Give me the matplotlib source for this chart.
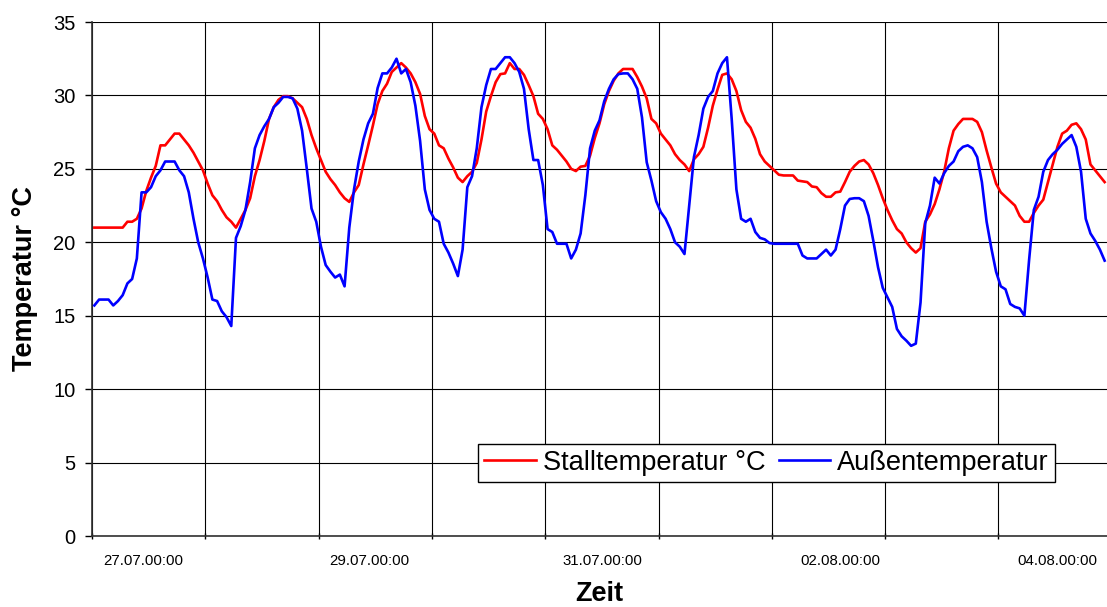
import numpy as np
import matplotlib
matplotlib.use("Agg")
import matplotlib.pyplot as plt

plt.rcParams['font.family'] = ['Liberation Sans', 'DejaVu Sans']

# hourly readings, 27.07. 00:00 to 04.08. ~22:00
stall = [21.0, 21.0, 21.0, 21.0, 21.0, 21.0, 21.0, 21.4, 21.4, 21.6, 22.3, 23.5,
         24.4, 25.2, 26.6, 26.6, 27.0, 27.4, 27.4, 27.0, 26.6, 26.1, 25.5, 24.9,
         24.0, 23.2, 22.8, 22.2, 21.7, 21.4, 21.0, 21.6, 22.2, 23.0, 24.5, 25.6,
         26.9, 28.4, 29.2, 29.7, 29.95, 29.95, 29.8, 29.5, 29.2, 28.4, 27.3, 26.4,
         25.6, 24.8, 24.3, 23.9, 23.4, 23.0, 22.75, 23.4, 23.9, 25.3, 26.6, 27.95,
         29.4, 30.3, 30.8, 31.6, 31.9, 32.2, 31.9, 31.5, 30.9, 30.1, 28.6, 27.7,
         27.4, 26.6, 26.4, 25.7, 25.1, 24.4, 24.1, 24.5, 24.8, 25.4, 27.0, 28.9,
         29.95, 30.9, 31.45, 31.5, 32.2, 31.8, 31.8, 31.4, 30.7, 29.95, 28.75, 28.4,
         27.7, 26.6, 26.3, 25.9, 25.5, 25.0, 24.85, 25.15, 25.2, 25.9, 27.1, 28.1,
         29.4, 30.3, 31.0, 31.5, 31.8, 31.8, 31.8, 31.25, 30.6, 29.8, 28.4, 28.1,
         27.4, 27.0, 26.6, 26.0, 25.6, 25.3, 24.85, 25.65, 26.0, 26.5, 27.8, 29.3,
         30.4, 31.4, 31.5, 31.1, 30.3, 29.0, 28.2, 27.8, 27.05, 26.0, 25.5, 25.2,
         24.9, 24.6, 24.55, 24.55, 24.55, 24.2, 24.15, 24.1, 23.8, 23.75, 23.35, 23.1,
         23.1, 23.4, 23.45, 24.1, 24.8, 25.2, 25.5, 25.6, 25.3, 24.7, 23.9, 23.0,
         22.2, 21.5, 20.9, 20.6, 20.0, 19.6, 19.3, 19.6, 21.4, 21.9, 22.6, 23.6,
         24.8, 26.4, 27.6, 28.05, 28.4, 28.4, 28.4, 28.2, 27.5, 26.25, 25.1, 24.0,
         23.4, 23.1, 22.8, 22.5, 21.8, 21.4, 21.4, 22.0, 22.5, 22.9, 24.1, 25.3,
         26.5, 27.4, 27.6, 28.0, 28.1, 27.7, 27.0, 25.3, 24.9, 24.5, 24.1]

aussen = [15.7, 16.1, 16.1, 16.1, 15.7, 16.0, 16.4, 17.2, 17.5, 18.9, 23.4, 23.4,
          23.75, 24.5, 24.9, 25.5, 25.5, 25.5, 24.9, 24.5, 23.4, 21.6, 20.0, 18.9,
          17.6, 16.1, 16.0, 15.3, 14.9, 14.3, 20.3, 21.1, 22.2, 24.1, 26.4, 27.3,
          27.9, 28.4, 29.2, 29.5, 29.9, 29.9, 29.8, 29.1, 27.6, 25.0, 22.3, 21.4,
          19.7, 18.45, 18.0, 17.6, 17.8, 17.0, 21.0, 23.6, 25.5, 27.0, 28.1, 28.75,
          30.5, 31.5, 31.5, 31.9, 32.5, 31.5, 31.8, 30.9, 29.3, 26.9, 23.6, 22.2,
          21.6, 21.4, 19.9, 19.3, 18.55, 17.7, 19.5, 23.75, 24.5, 26.4, 29.2, 30.7,
          31.8, 31.8, 32.2, 32.6, 32.6, 32.2, 31.6, 30.45, 27.7, 25.6, 25.6, 23.9,
          20.9, 20.7, 19.9, 19.9, 19.9, 18.9, 19.5, 20.6, 23.2, 26.4, 27.6, 28.3,
          29.6, 30.45, 31.1, 31.45, 31.5, 31.5, 31.1, 30.45, 28.5, 25.45, 24.2, 22.8,
          22.05, 21.6, 20.9, 20.0, 19.7, 19.2, 22.5, 25.8, 27.3, 29.1, 29.9, 30.3,
          31.5, 32.2, 32.6, 28.4, 23.6, 21.6, 21.4, 21.6, 20.7, 20.3, 20.2, 19.95,
          19.9, 19.9, 19.9, 19.9, 19.9, 19.9, 19.1, 18.9, 18.9, 18.9, 19.2, 19.5,
          19.1, 19.5, 20.9, 22.5, 22.95, 23.0, 23.0, 22.8, 21.8, 20.1, 18.3, 16.9,
          16.25, 15.6, 14.1, 13.6, 13.3, 12.95, 13.1, 15.9, 21.3, 22.5, 24.4, 24.0,
          24.7, 25.2, 25.5, 26.2, 26.5, 26.6, 26.4, 25.8, 24.1, 21.4, 19.6, 18.0,
          17.0, 16.8, 15.8, 15.6, 15.5, 15.0, 18.8, 22.2, 23.1, 24.8, 25.6, 26.0,
          26.3, 26.7, 27.0, 27.3, 26.5, 24.8, 21.6, 20.6, 20.1, 19.5, 18.75]

date_labels = ['27.07.00:00', '29.07.00:00', '31.07.00:00', '02.08.00:00', '04.08.00:00']
label_hours = [10.8, 58.8, 108.1, 158.5, 204.4]

hours = np.arange(len(stall)) + 0.5

fig = plt.figure(figsize=(11.07, 6.07), dpi=100)
ax = fig.add_axes([92 / 1107, 71 / 607, 1015 / 1107, 514 / 607])

ax.plot(hours, stall, color='#ff0000', lw=1.9, label='Stalltemperatur °C', zorder=3)
ax.plot(hours, aussen, color='#0000ff', lw=1.9, label='Außentemperatur', zorder=3)

ax.set_xlim(0, len(stall))
ax.set_ylim(0, 35)
ax.set_yticks(np.arange(0, 36, 5))
ax.set_xticks(np.arange(0, len(stall) + 1, 24))
ax.set_xticklabels([])
ax.set_xticks(label_hours, minor=True)
ax.set_xticklabels(date_labels, minor=True)
ax.tick_params(axis='x', which='minor', length=0, pad=13, labelsize=10.8)
ax.tick_params(axis='x', which='major', length=5, width=1, direction='inout')
ax.tick_params(axis='y', length=5, width=1, pad=7, labelsize=14.5)

ax.grid(True, which='major', color='black', lw=0.8)
ax.set_axisbelow(True)
for s in ['top', 'right']:
    ax.spines[s].set_visible(False)
for s in ['left', 'bottom']:
    ax.spines[s].set_linewidth(1.2)
    ax.spines[s].set_color('#303030')

ax.set_ylabel('Temperatur °C', fontsize=19.5, fontweight='bold')
ax.yaxis.set_label_coords((25 - 92) / 1015, 0.5)
ax.yaxis.label.set_va('center')
ax.set_xlabel('Zeit', fontsize=19.5, fontweight='bold')
ax.xaxis.set_label_coords(0.5, (536 - 594) / 514)
ax.xaxis.label.set_va('center')

leg = ax.legend(loc='lower left', bbox_to_anchor=((478 - 92) / 1015, (536 - 482) / 514),
                borderaxespad=0, ncol=2, fontsize=19.6, frameon=True, fancybox=False,
                edgecolor='black', framealpha=1, handlelength=1.9, handletextpad=0.25,
                columnspacing=0.5, borderpad=0.22)
leg.get_frame().set_linewidth(1.0)

fig.savefig('out.png', dpi=100)
